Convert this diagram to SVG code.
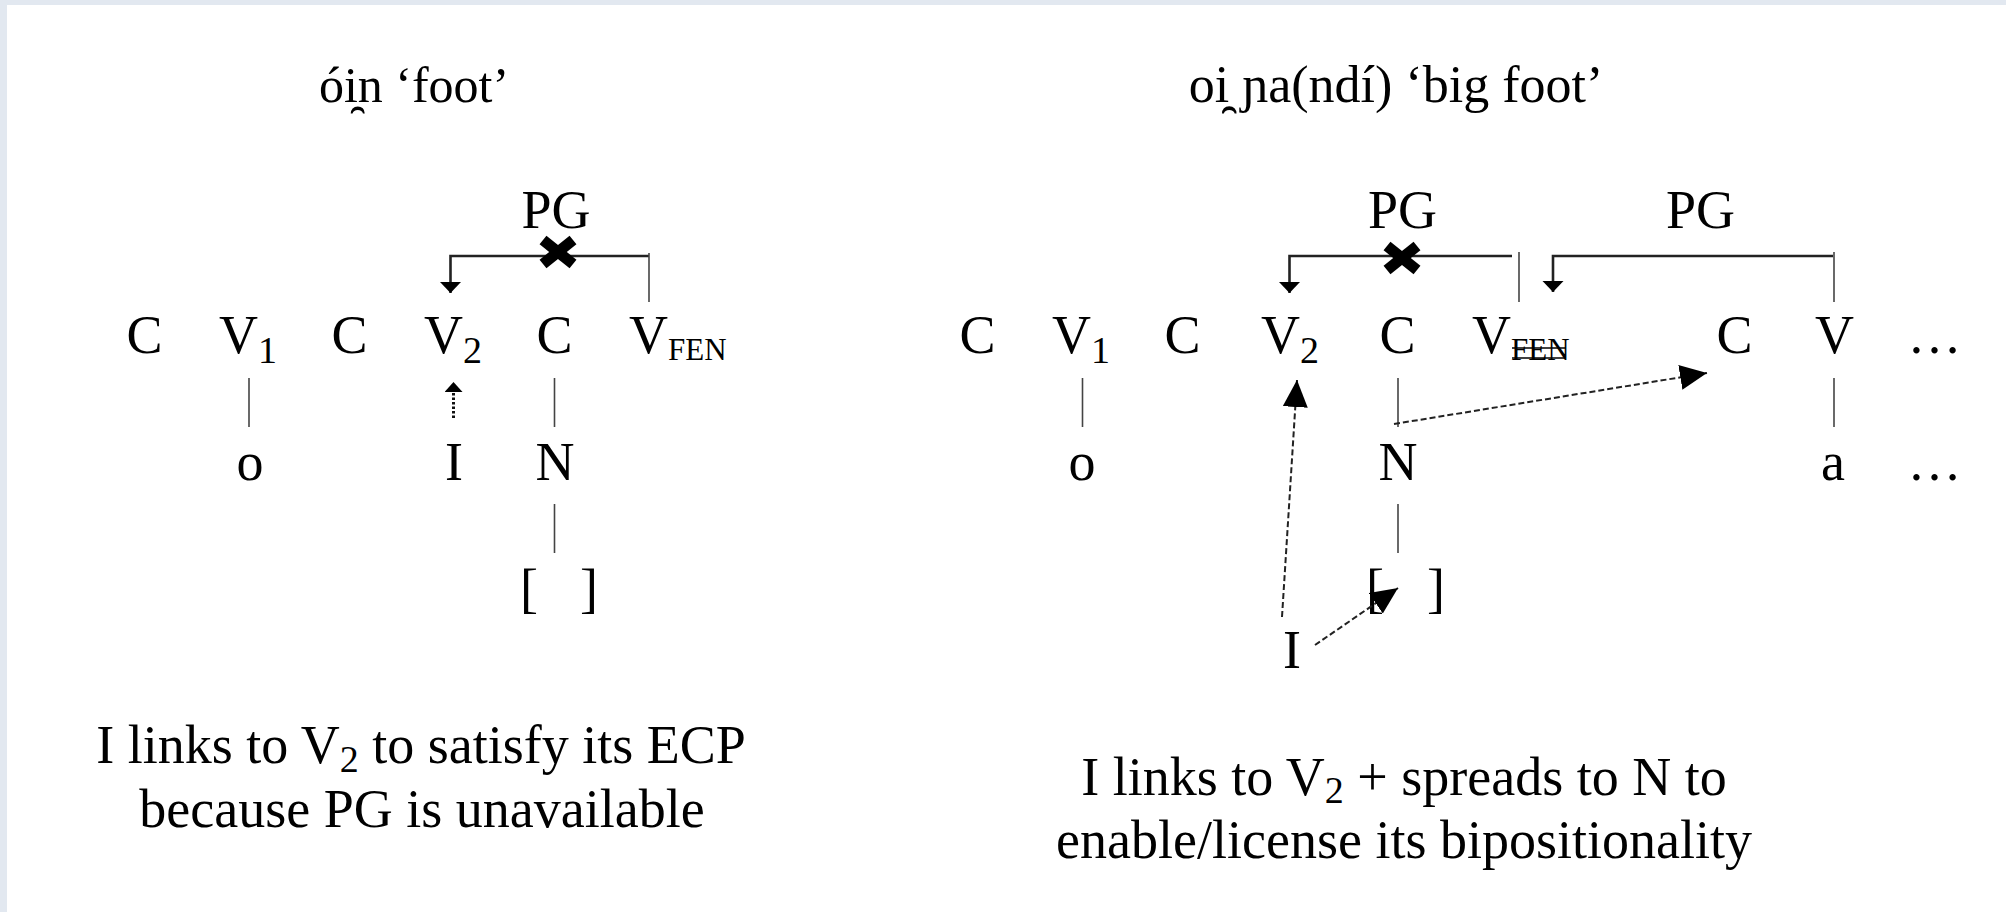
<svg xmlns="http://www.w3.org/2000/svg" width="2006" height="912" viewBox="0 0 2006 912">
  <style>
    text { font-family: "Liberation Serif", "DejaVu Serif", serif; fill: #000; }
    .lbl { font-size: 54px; }
    .mid { text-anchor: middle; }
    .sub { font-size: 38px; }
    .fen { font-size: 31px; }
    .title { font-size: 52px; text-anchor: middle; }
    .assoc { stroke: #444; stroke-width: 1.6; fill: none; }
    .pg { stroke: #222; stroke-width: 2.6; fill: none; }
    .tick { stroke: #444; stroke-width: 1.6; fill: none; }
    .link { stroke: #222; stroke-width: 2; stroke-dasharray: 6 3; fill: none; }
    .dot { stroke: #111; stroke-width: 3; stroke-dasharray: 2.5 2; fill: none; }
    .xm { stroke: #000; stroke-width: 11; stroke-linecap: butt; }
  </style>
  <defs>
    <marker id="head" markerUnits="userSpaceOnUse" markerWidth="28" markerHeight="26" refX="27" refY="12.5" orient="auto">
      <path d="M0,0 L27,12.5 L0,25 Z" fill="#000"/>
    </marker>
    <marker id="pghead" markerUnits="userSpaceOnUse" markerWidth="12" markerHeight="22" refX="11" refY="10.5" orient="auto">
      <path d="M0,0 L11,10.5 L0,21 Z" fill="#000"/>
    </marker>
    <marker id="dothead" markerUnits="userSpaceOnUse" markerWidth="12" markerHeight="20" refX="10" refY="9" orient="auto">
      <path d="M0,0 L10,9 L0,18 Z" fill="#000"/>
    </marker>
    <g id="xmark">
      <line class="xm" x1="-15" y1="-12" x2="15" y2="12"/>
      <line class="xm" x1="-15" y1="12" x2="15" y2="-12"/>
    </g>
  </defs>

  <!-- page frame -->
  <rect x="0" y="0" width="2006" height="912" fill="#e2e8f0"/>
  <rect x="7" y="5" width="1999" height="907" fill="#ffffff"/>

  <!-- ===== left structure: óin 'foot' ===== -->
  <g id="title-left"><text class="title" x="414" y="102" style="font-size:50px">ói̯n ‘foot’</text></g>

  <g id="l-pg"><text class="lbl mid" x="556" y="228">PG</text></g>
  <g id="l-c1"><text class="lbl mid" x="144.5" y="353">C</text></g>
  <g id="l-v1"><text class="lbl" x="219" y="353">V<tspan class="sub" dy="10">1</tspan></text></g>
  <g id="l-c2"><text class="lbl mid" x="349.5" y="353">C</text></g>
  <g id="l-v2"><text class="lbl" x="424" y="353">V<tspan class="sub" dy="10">2</tspan></text></g>
  <g id="l-c3"><text class="lbl mid" x="554.5" y="353">C</text></g>
  <g id="l-vfen"><text class="lbl" x="629" y="353">V<tspan class="fen" dy="7">FEN</tspan></text></g>
  <g id="l-o"><text class="lbl mid" x="250" y="480">o</text></g>
  <g id="l-i"><text class="lbl mid" x="454" y="480">I</text></g>
  <g id="l-n"><text class="lbl mid" x="555" y="480">N</text></g>
  <g id="l-brackets"><text class="lbl" y="607"><tspan x="520">[</tspan><tspan x="580">]</tspan></text></g>

  <g id="l-note">
    <text class="lbl mid" x="421" y="763">I links to V<tspan class="sub" dy="9">2</tspan><tspan dy="-9"> to satisfy its ECP</tspan></text>
    <text class="lbl mid" x="422" y="827">because PG is unavailable</text>
  </g>

  <!-- ===== right structure: oi ɲa(ndí) 'big foot' ===== -->
  <g id="title-right"><text class="title" x="1396" y="102">oi̯ ɲa(ndí) ‘big foot’</text></g>

  <g id="r-pg1"><text class="lbl mid" x="1402.5" y="228">PG</text></g>
  <g id="r-pg2"><text class="lbl mid" x="1700.5" y="228">PG</text></g>
  <g id="r-c1"><text class="lbl mid" x="977.5" y="353">C</text></g>
  <g id="r-v1"><text class="lbl" x="1052" y="353">V<tspan class="sub" dy="10">1</tspan></text></g>
  <g id="r-c2"><text class="lbl mid" x="1182.5" y="353">C</text></g>
  <g id="r-v2"><text class="lbl" x="1261" y="353">V<tspan class="sub" dy="10">2</tspan></text></g>
  <g id="r-c3"><text class="lbl mid" x="1397.5" y="353">C</text></g>
  <g id="r-vfen">
    <text class="lbl" x="1472" y="353">V<tspan class="fen" dy="7">FEN</tspan></text>
    <line x1="1512" y1="348" x2="1566" y2="348" stroke="#000" stroke-width="1.6"/>
    <line x1="1512" y1="358" x2="1566" y2="358" stroke="#000" stroke-width="1.6"/>
  </g>
  <g id="r-c4"><text class="lbl mid" x="1734.5" y="353">C</text></g>
  <g id="r-v4"><text class="lbl mid" x="1834.5" y="353">V</text></g>
  <g id="r-ell1"><text class="lbl mid" x="1934.5" y="353">…</text></g>
  <g id="r-o"><text class="lbl mid" x="1082" y="480">o</text></g>
  <g id="r-n"><text class="lbl mid" x="1398" y="480">N</text></g>
  <g id="r-a"><text class="lbl mid" x="1833" y="480">a</text></g>
  <g id="r-ell2"><text class="lbl mid" x="1934.5" y="480">…</text></g>
  <g id="r-brackets"><text class="lbl" y="607"><tspan x="1366">[</tspan><tspan x="1427">]</tspan></text></g>
  <g id="r-i"><text class="lbl mid" x="1292" y="668">I</text></g>

  <g id="r-note">
    <text class="lbl mid" x="1404" y="795">I links to V<tspan class="sub" dy="8">2</tspan><tspan dy="-8"> + spreads to N to</tspan></text>
    <text class="lbl mid" x="1404" y="858">enable/license its bipositionality</text>
  </g>

  <!-- ===== connectors ===== -->
  <g id="connectors">
    <!-- left: association lines -->
    <line class="assoc" x1="249" y1="378" x2="249" y2="427"/>
    <line class="assoc" x1="554.5" y1="378" x2="554.5" y2="427"/>
    <line class="assoc" x1="554.5" y1="504" x2="554.5" y2="553"/>
    <!-- left: blocked proper government -->
    <path class="pg" d="M649,256 H450.5 V293" marker-end="url(#pghead)"/>
    <line class="tick" x1="649" y1="253" x2="649" y2="302"/>
    <use href="#xmark" x="558" y="252"/>
    <!-- left: I to V2 -->
    <path class="dot" d="M453.5,418 V382" marker-end="url(#dothead)"/>

    <!-- right: association lines -->
    <line class="assoc" x1="1082.5" y1="378" x2="1082.5" y2="427"/>
    <line class="assoc" x1="1398" y1="378" x2="1398" y2="427"/>
    <line class="assoc" x1="1398" y1="504" x2="1398" y2="553"/>
    <line class="assoc" x1="1834" y1="378" x2="1834" y2="427"/>
    <!-- right: blocked PG -->
    <path class="pg" d="M1512,256 H1289.5 V293" marker-end="url(#pghead)"/>
    <line class="tick" x1="1519" y1="252" x2="1519" y2="302"/>
    <use href="#xmark" x="1402" y="258"/>
    <!-- right: PG from following nucleus -->
    <path class="pg" d="M1833,256 H1553 V292" marker-end="url(#pghead)"/>
    <line class="tick" x1="1834" y1="252" x2="1834" y2="302"/>
    <!-- right: spreading links -->
    <path class="link" d="M1282,617 L1297,380" marker-end="url(#head)"/>
    <path class="link" d="M1394,424 L1707,373" marker-end="url(#head)"/>
    <path class="link" d="M1315,645 L1398,588" marker-end="url(#head)"/>
  </g>
</svg>
